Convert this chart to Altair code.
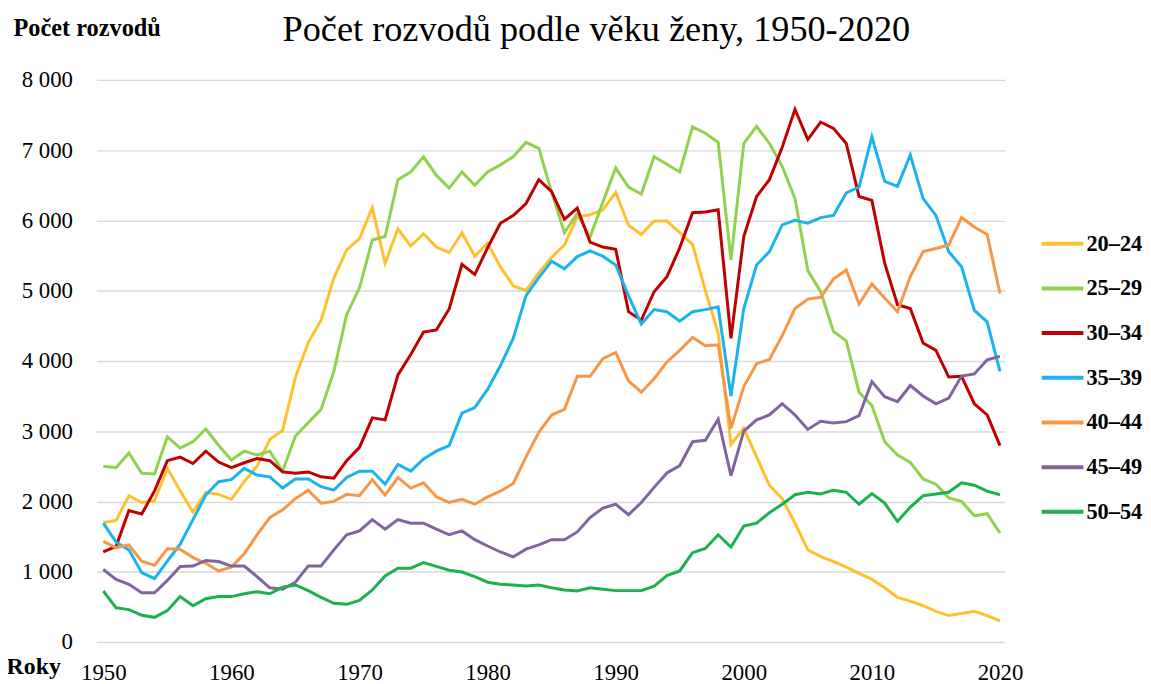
import altair as alt
import pandas as pd

years = list(range(1950, 2021))

s20_24 = [1700, 1730, 2080, 1985, 2010, 2470, 2150, 1850, 2130, 2100,
          2030, 2280, 2500, 2880, 3010, 3770, 4260, 4580, 5180, 5580,
          5740, 6180, 5390, 5880, 5635, 5810, 5620, 5540, 5825, 5490,
          5675, 5340, 5070, 5000, 5255, 5475, 5650, 6050, 6080, 6150,
          6400, 5930, 5800, 5990, 5990, 5825, 5660, 5000, 4400, 2810,
          3040, 2635, 2230, 2040, 1690, 1310, 1215, 1145, 1065, 975,
          890, 770, 635, 580, 515, 435, 375, 405, 435, 375,
          300]
s25_29 = [2500, 2480, 2690, 2400, 2390, 2920, 2760, 2850, 3030, 2800,
          2590, 2715, 2660, 2715, 2430, 2930, 3120, 3310, 3850, 4660,
          5040, 5720, 5770, 6580, 6690, 6905, 6640, 6460, 6690, 6500,
          6690, 6790, 6905, 7110, 7025, 6400, 5825, 6095, 5760, 6260,
          6745, 6475, 6375, 6905, 6800, 6690, 7330, 7240, 7110, 5435,
          7095, 7340, 7095, 6770, 6310, 5285, 4985, 4420, 4285, 3555,
          3365, 2850, 2660, 2555, 2320, 2245, 2050, 2000, 1795, 1825,
          1550]
s30_34 = [1280, 1360, 1870, 1820, 2150, 2580, 2630, 2540, 2715, 2560,
          2480, 2550, 2610, 2580, 2420, 2400, 2420, 2350, 2330, 2580,
          2770, 3190, 3160, 3800, 4090, 4410, 4440, 4740, 5375, 5230,
          5610, 5960, 6070, 6240, 6580, 6410, 6015, 6175, 5690, 5620,
          5590, 4700, 4580, 4985, 5200, 5610, 6110, 6120, 6150, 4320,
          5770, 6340, 6580, 7040, 7580, 7150, 7400, 7310, 7095, 6340,
          6285, 5390, 4800, 4745, 4255, 4150, 3770, 3780, 3390, 3230,
          2795]
s35_39 = [1690, 1420, 1310, 985, 900, 1150, 1390, 1740, 2090, 2280,
          2310, 2470, 2375, 2350, 2190, 2320, 2320, 2210, 2160, 2340,
          2430, 2430, 2245, 2525, 2430, 2605, 2715, 2795, 3255, 3335,
          3595, 3930, 4320, 4930, 5185, 5420, 5310, 5485, 5565, 5490,
          5365, 4930, 4525, 4730, 4700, 4565, 4700, 4730, 4770, 3500,
          4745, 5365, 5555, 5935, 6000, 5960, 6040, 6070, 6390, 6475,
          7190, 6555, 6485, 6930, 6310, 6070, 5555, 5340, 4720, 4555,
          3850]
s40_44 = [1430, 1340, 1380, 1150, 1090, 1325, 1320, 1200, 1120, 1010,
          1065, 1255, 1525, 1770, 1880, 2040, 2160, 1975, 2000, 2100,
          2080, 2310, 2090, 2340, 2190, 2265, 2065, 1985, 2030, 1960,
          2065, 2145, 2255, 2635, 2985, 3230, 3310, 3780, 3780, 4030,
          4120, 3715, 3555, 3745, 3985, 4150, 4335, 4215, 4230, 3040,
          3635, 3960, 4020, 4360, 4745, 4880, 4905, 5165, 5295, 4810,
          5095, 4895, 4700, 5200, 5555, 5600, 5650, 6040, 5905, 5800,
          4960]
s45_49 = [1030, 890, 820, 700, 700, 875, 1075, 1080, 1160, 1145,
          1080, 1080, 930, 770, 750, 850, 1080, 1080, 1310, 1525,
          1580, 1740, 1605, 1740, 1690, 1690, 1605, 1525, 1580, 1455,
          1365, 1280, 1210, 1320, 1380, 1455, 1455, 1565, 1770, 1905,
          1960, 1810, 1985, 2200, 2405, 2510, 2850, 2870, 3170, 2365,
          3000, 3160, 3230, 3390, 3230, 3025, 3140, 3115, 3135, 3220,
          3705, 3490, 3420, 3650, 3500, 3390, 3470, 3785, 3815, 4015,
          4065]
s50_54 = [725, 485, 460, 380, 350, 445, 645, 515, 615, 645,
          645, 685, 715, 685, 780, 810, 730, 635, 550, 535,
          590, 740, 940, 1050, 1050, 1130, 1075, 1020, 995, 930,
          850, 820, 810, 795, 810, 770, 740, 725, 770, 750,
          730, 730, 730, 795, 945, 1010, 1270, 1330, 1525, 1350,
          1650, 1690, 1840, 1960, 2095, 2130, 2105, 2160, 2130, 1960,
          2110, 1975, 1715, 1920, 2080, 2105, 2130, 2265, 2230, 2145,
          2095]

groups = ["20–24", "25–29", "30–34", "35–39", "40–44", "45–49", "50–54"]
colors = ["#FFC02E", "#92D050", "#C00000", "#1AB3EE", "#F79646", "#8064A2", "#1DB04F"]
series = [s20_24, s25_29, s30_34, s35_39, s40_44, s45_49, s50_54]
x_ticks = [1950, 1960, 1970, 1980, 1990, 2000, 2010, 2020]
y_ticks = [0, 1000, 2000, 3000, 4000, 5000, 6000, 7000, 8000]

rows = []
for gi, (g, vals) in enumerate(zip(groups, series)):
    assert len(vals) == len(years), g
    for y, v in zip(years, vals):
        rows.append({"rok": y, "pocet": v, "vek": g, "poradi": gi})
df = pd.DataFrame(rows)

FONT = "Liberation Serif"

chart = alt.Chart(df).mark_line(strokeWidth=3, interpolate="linear").encode(
    x=alt.X("rok:Q",
            scale=alt.Scale(domain=[1949.46, 2020.39], nice=False, zero=False),
            axis=alt.Axis(values=x_ticks, format="d", grid=False, domain=False, ticks=False,
                          labelFont=FONT, labelFontSize=23, labelColor="black",
                          labelPadding=20, labelFlush=False,
                          title="Roky", titleFont=FONT, titleFontSize=24, titleFontWeight="bold",
                          titleColor="black", titleAlign="left", titleBaseline="alphabetic",
                          titleX=-91, titleY=32)),
    y=alt.Y("pocet:Q",
            scale=alt.Scale(domain=[0, 8000], nice=False),
            axis=alt.Axis(values=y_ticks, grid=True, gridColor="#D9D9D9", gridWidth=1.5,
                          domain=False, ticks=False,
                          labelExpr="replace(format(datum.value, ','), ',', ' ')",
                          labelFont=FONT, labelFontSize=23, labelColor="black", labelPadding=24,
                          title="Počet rozvodů", titleFont=FONT, titleFontSize=24.5,
                          titleFontWeight="bold", titleColor="black", titleAngle=0,
                          titleAlign="left", titleBaseline="alphabetic",
                          titleX=-84, titleY=-45)),
    color=alt.Color("vek:N",
                    scale=alt.Scale(domain=groups, range=colors),
                    legend=alt.Legend(title=None, orient="none", legendX=950, legendY=142,
                                      symbolType="stroke", symbolSize=1764, symbolStrokeWidth=4,
                                      labelFont=FONT, labelFontSize=22.5, labelFontWeight="bold",
                                      labelColor="black", labelOffset=1, rowPadding=10,
                                      padding=0)),
    order=alt.Order("poradi:Q"),
).properties(
    width=915,
    height=566,
    autosize=alt.AutoSizeParams(type="none"),
    padding={"left": 89, "top": 70, "right": 139, "bottom": 40},
    title=alt.TitleParams("Počet rozvodů podle věku ženy, 1950-2020", font=FONT, fontSize=36.5,
                          fontWeight="normal", color="black", anchor="middle", dx=46, dy=37),
).configure_view(stroke=None)

chart.save("out.html", embed_options={"renderer": "svg", "actions": False})
